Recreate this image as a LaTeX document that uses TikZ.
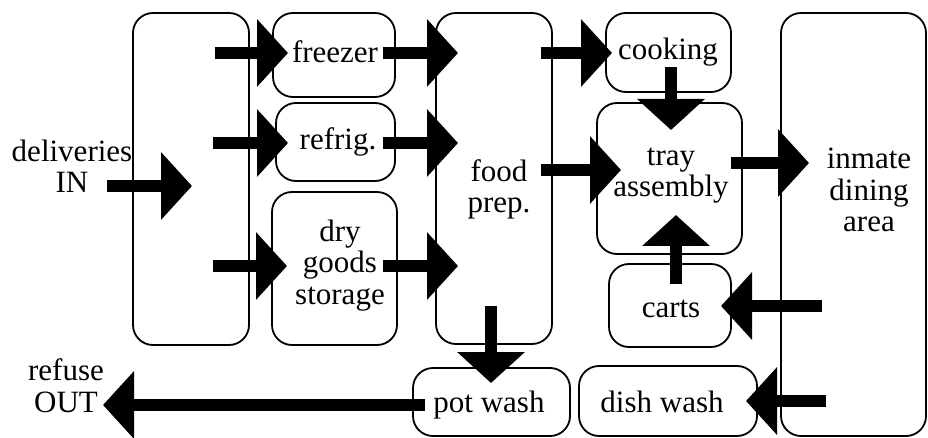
\documentclass[tikz,border=0pt]{standalone}
\usepackage{fontspec}
\setmainfont{Liberation Serif}
\usetikzlibrary{arrows.meta}
\tikzset{
  box/.style={draw, line width=1.8pt, rounded corners=20pt, inner sep=0pt},
  lbl/.style={inner sep=0pt, align=center, anchor=base, font=\fontsize{31}{31.5}\selectfont},
  bigarrow/.style={line width=12pt, -{Triangle[length=31pt,width=66pt]}}
}
\begin{document}
\begin{tikzpicture}[x=1pt,y=-1pt]
\useasboundingbox (0,0) rectangle (928,438);
% boxes
\node[box, minimum width=116, minimum height=332] (recv) at (191,179) {};
\node[box, minimum width=122, minimum height=84] (freezer) at (334,55) {};
\node[box, minimum width=119, minimum height=78] (refrig) at (335.5,142) {};
\node[box, minimum width=125, minimum height=153] (dry) at (334.5,268.5) {};
\node[box, minimum width=116, minimum height=331] (prep) at (494,178.5) {};
\node[box, minimum width=125, minimum height=79] (cooking) at (668.5,52.5) {};
\node[box, minimum width=145, minimum height=151] (tray) at (669.5,178.5) {};
\node[box, minimum width=122, minimum height=83] (carts) at (670,305.5) {};
\node[box, minimum width=178, minimum height=70] (dish) at (668,401) {};
\node[box, minimum width=157, minimum height=68] (pot) at (491.5,402) {};
\node[box, minimum width=145, minimum height=423] (inmate) at (853.5,224.5) {};
% labels (base anchor = baseline of the last line)
\node[lbl] (tdeliv) at (72,193) {deliveries\\IN};
\node[lbl] (tfreezer) at (335,63) {freezer};
\node[lbl] (trefrig) at (338,150) {refrig.};
\node[lbl] (tdry) at (340,304) {dry\\goods\\storage};
\node[lbl] (tprep) at (499,213) {food\\prep.};
\node[lbl] (tcooking) at (668,60) {cooking};
\node[lbl] (ttray) at (671,197) {tray\\assembly};
\node[lbl] (tinmate) at (869,232) {inmate\\dining\\area};
\node[lbl] (tcarts) at (671,317) {carts};
\node[lbl] (tdish) at (662,412) {dish wash};
\node[lbl] (tpot) at (489,412) {pot wash};
\node[lbl] (trefuse) at (66,412) {refuse\\OUT};
% arrow end points
\coordinate (a1s) at (107,186);  \coordinate (a1e) at (192,186);
\coordinate (a2s) at (215,53);   \coordinate (a2e) at (288,53);
\coordinate (a3s) at (213,143);  \coordinate (a3e) at (288,143);
\coordinate (a4s) at (213,266);  \coordinate (a4e) at (287,266);
\coordinate (a5s) at (383,53);   \coordinate (a5e) at (458,53);
\coordinate (a6s) at (383,143);  \coordinate (a6e) at (458,143);
\coordinate (a7s) at (383,266);  \coordinate (a7e) at (458,266);
\coordinate (a8s) at (541,53);   \coordinate (a8e) at (612,53);
\coordinate (a9s) at (541,170);  \coordinate (a9e) at (621,170);
\coordinate (a10s) at (671,67);  \coordinate (a10e) at (671,130);
\coordinate (a11s) at (731,163); \coordinate (a11e) at (809,163);
\coordinate (a12s) at (676,284); \coordinate (a12e) at (676,215);
\coordinate (a13s) at (822,306); \coordinate (a13e) at (721,306);
\coordinate (a14s) at (826,401); \coordinate (a14e) at (746,401);
\coordinate (a15s) at (491,306); \coordinate (a15e) at (491,383);
\coordinate (a16s) at (425,405); \coordinate (a16e) at (103,405);
\foreach \i in {1,...,16} {\draw[bigarrow] (a\i s) -- (a\i e);}
\end{tikzpicture}
\end{document}
